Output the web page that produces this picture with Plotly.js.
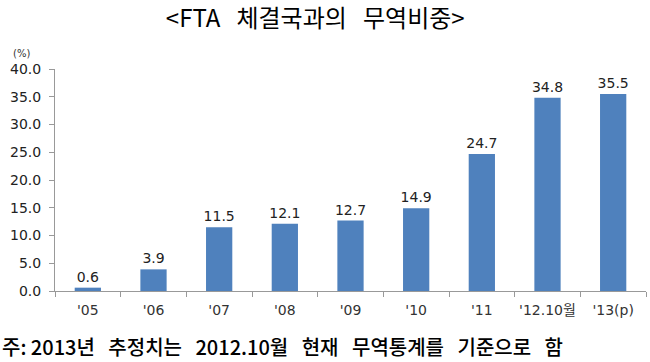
<!DOCTYPE html>
<html>
<head>
<meta charset="utf-8">
<script src="https://cdn.plot.ly/plotly-3.0.1.min.js"></script>
<style>html,body{margin:0;padding:0;background:#fff;}#chart{width:650px;height:362px;}</style>
</head>
<body>
<div id="chart"></div>
<script>
const categories = ["'05", "'06", "'07", "'08", "'09", "'10", "'11", "'12.10월", "'13(p)"];
const shareValues = [0.6, 3.9, 11.5, 12.1, 12.7, 14.9, 24.7, 34.8, 35.5];
const chartTitle = "&lt;FTA&nbsp;&nbsp; 체결국과의&nbsp;&nbsp; 무역비중&gt;";
const unitLabel = "(%)";
const noteText = "주: 2013년&nbsp;&nbsp; 추정치는&nbsp;&nbsp; 2012.10월&nbsp;&nbsp; 현재&nbsp;&nbsp; 무역통계를&nbsp;&nbsp; 기준으로&nbsp;&nbsp; 함";

const trace = {
  type: 'bar',
  x: categories,
  y: shareValues,
  marker: {color: '#4F81BD'},
  texttemplate: '%{y:.1f}',
  textposition: 'outside',
  constraintext: 'none',
  textfont: {family: 'DejaVu Sans, sans-serif', size: 14, color: '#222'},
  cliponaxis: false,
  hoverinfo: 'none'
};

const layout = {
  width: 650, height: 362,
  margin: {l: 55, r: 4, t: 69, b: 71},
  paper_bgcolor: '#fff', plot_bgcolor: '#fff',
  bargap: 0.6,
  showlegend: false,
  title: {
    text: chartTitle,
    font: {family: 'Noto Sans CJK KR, sans-serif', size: 24, color: '#000'},
    xref: 'container', yref: 'container',
    x: 0.485, y: 0.95, xanchor: 'center', yanchor: 'middle'
  },
  xaxis: {
    type: 'category',
    showline: true, linecolor: '#999', linewidth: 1,
    ticks: 'outside', tickson: 'boundaries', ticklen: 5, tickcolor: '#999',
    tickangle: 0,
    ticklabelstandoff: 6,
    tickfont: {family: 'DejaVu Sans, Noto Sans CJK KR, sans-serif', size: 14, color: '#333'},
    showgrid: false, zeroline: false
  },
  yaxis: {
    range: [0, 40], dtick: 5, tickformat: '.1f',
    showline: true, linecolor: '#999', linewidth: 1,
    ticks: 'outside', ticklen: 5, tickcolor: '#999',
    ticklabelstandoff: 5,
    tickfont: {family: 'DejaVu Sans, sans-serif', size: 14, color: '#222'},
    showgrid: false, zeroline: false
  },
  annotations: [
    {text: unitLabel, xref: 'paper', yref: 'paper', x: -0.056, y: 1.068,
     xanchor: 'center', yanchor: 'middle', showarrow: false,
     font: {family: 'DejaVu Sans, sans-serif', size: 10, color: '#333'}},
    {text: noteText, xref: 'paper', yref: 'paper', x: -0.093, y: -0.252,
     xanchor: 'left', yanchor: 'middle', showarrow: false,
     font: {family: 'Noto Sans CJK KR, sans-serif', size: 20, weight: 500, color: '#000'}}
  ]
};

Plotly.newPlot('chart', [trace], layout, {displayModeBar: false, staticPlot: true});
</script>
</body>
</html>
